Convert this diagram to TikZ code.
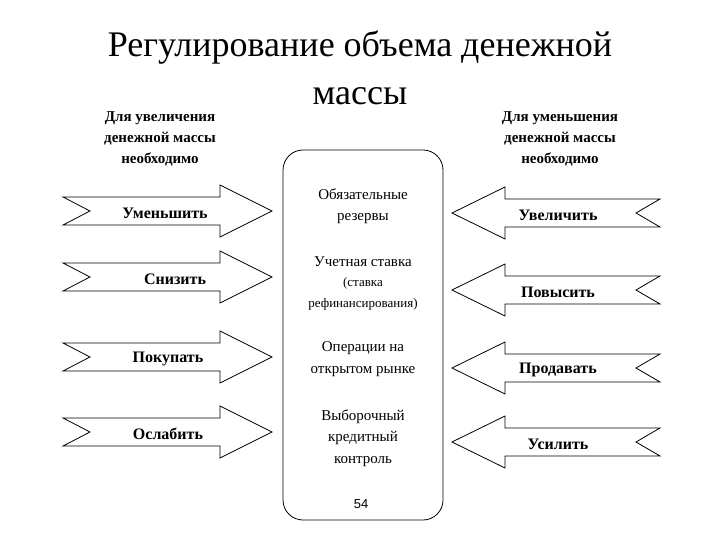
\documentclass[tikz,border=0pt]{standalone}
\usepackage{fontspec}
\setmainfont{Liberation Serif}
\newfontfamily\sansf{Liberation Sans}
\begin{document}
\begin{tikzpicture}[x=1pt,y=-1pt,
 rarr/.style={draw,line width=0.8pt,fill=white},
 lab/.style={font=\bfseries\fontsize{16}{18}\selectfont},
 ctext/.style={align=center,font=\fontsize{15}{21.5}\selectfont},
 head/.style={align=center,font=\bfseries\fontsize{15}{21}\selectfont}]
\useasboundingbox (0,0) rectangle (720,540);
\node[font=\fontsize{36}{48}\selectfont,align=center] (t) at (360,68) {Регулирование объема денежной\\массы};
\node[head] (hl) at (160,139) {Для увеличения\\денежной массы\\необходимо};
\node[head] (hr) at (560,139) {Для уменьшения\\денежной массы\\необходимо};
\draw[line width=0.8pt,rounded corners=20pt] (283,150) rectangle (443,520);
\node[ctext] (c1) at (363,206) {Обязательные\\резервы};
\node[ctext] (c2a) at (363,262) {Учетная ставка};
\node[align=center,font=\fontsize{13}{21}\selectfont] (c2b) at (363,294) {(ставка\\рефинансирования)};
\node[ctext] (c3) at (363,359) {Операции на\\открытом рынке};
\node[ctext] (c4) at (363,438) {Выборочный\\кредитный\\контроль};
\node[font=\sansf\fontsize{13}{15}\selectfont] (pg) at (361,504) {54};
\foreach \yy/\t/\lx in {211/Уменьшить/165,277/Снизить/175,357/Покупать/168,432/Ослабить/168}{
 \begin{scope}[yshift=-\yy pt]
 \draw[rarr] (63,-14) -- (220,-14) -- (220,-26) -- (272,0) -- (220,26) -- (220,14) -- (63,14) -- (90,0) -- cycle;
 \node[lab] at (\lx,2) {\t};
 \end{scope}
}
\foreach \yy/\t in {213/Увеличить,290/Повысить,368/Продавать,442/Усилить}{
 \begin{scope}[yshift=-\yy pt]
 \draw[rarr] (660,-14) -- (505,-14) -- (505,-26) -- (452,0) -- (505,26) -- (505,14) -- (660,14) -- (636,0) -- cycle;
 \node[lab] at (558,2) {\t};
 \end{scope}
}
\end{tikzpicture}
\end{document}
